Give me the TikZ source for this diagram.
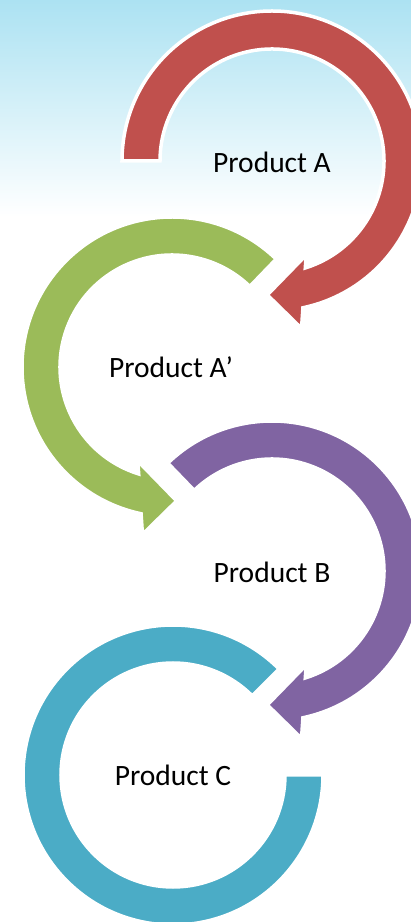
\documentclass[tikz,border=0pt]{standalone}
\usepackage{fontspec}
\setmainfont{Carlito}
\definecolor{bgtop}{RGB}{172,226,242}
\definecolor{cred}{RGB}{192,80,77}
\definecolor{cgreen}{RGB}{155,187,89}
\definecolor{cpurple}{RGB}{128,100,162}
\definecolor{cteal}{RGB}{75,172,198}
\tikzset{
  band/.style={draw=white, line width=3.5pt, line join=miter},
  label/.style={font=\fontsize{29.5}{34}\selectfont, inner sep=0pt, text=black}
}
\begin{document}
\begin{tikzpicture}[x=1pt,y=1pt]
\useasboundingbox (0,0) rectangle (411,922);
\fill[white] (0,0) rectangle (411,922);
\shade[top color=bgtop, bottom color=white] (0,922) rectangle (411,705);
% red arrow
\begin{scope}[shift={(272,761)}]
  \filldraw[band, fill=cred] (180:150) arc[start angle=180, end angle=-78.1, radius=150]
    -- (-80:170) -- (-92:134) -- (-70:100) -- (-72.7:112)
    arc[start angle=-72.7, end angle=180, radius=112] -- cycle;
\end{scope}
% green arrow
\begin{scope}[shift={(172,555)}]
  \filldraw[band, fill=cgreen] (46:150) arc[start angle=46, end angle=258.1, radius=150]
    -- (260:170) -- (272:134) -- (250:100) -- (252.7:112)
    arc[start angle=252.7, end angle=46, radius=112] -- cycle;
\end{scope}
% purple arrow
\begin{scope}[shift={(272,351)}]
  \filldraw[band, fill=cpurple] (134:150) arc[start angle=134, end angle=-78.1, radius=150]
    -- (-80:170) -- (-92:134) -- (-70:100) -- (-72.7:112)
    arc[start angle=-72.7, end angle=134, radius=112] -- cycle;
\end{scope}
% teal ring
\begin{scope}[shift={(173,147)}]
  \filldraw[band, fill=cteal] (45:150) arc[start angle=45, end angle=360, radius=150]
    -- (0:112) arc[start angle=360, end angle=45, radius=112] -- cycle;
\end{scope}
\node[label] (pa) at (272,760) {Product A};
\node[label] (pa2) at (171,555) {Product A’};
\node[label] (pb) at (272,350) {Product B};
\node[label] (pc) at (173,147) {Product C};
\end{tikzpicture}
\end{document}
